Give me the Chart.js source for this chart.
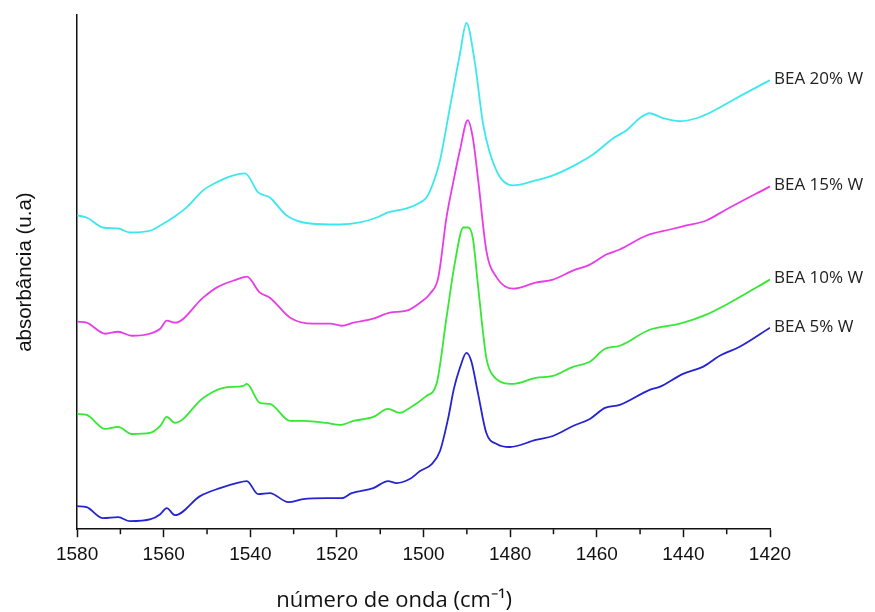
<!DOCTYPE html>
<html>
<head>
<meta charset="utf-8">
<script src="https://cdn.jsdelivr.net/npm/chart.js@4/dist/chart.umd.min.js"></script>
<style>
  html, body { margin: 0; padding: 0; background: #fff; }
  #wrap { width: 875px; height: 612px; }
</style>
</head>
<body>
<div id="wrap"><canvas id="irChart" width="875" height="612"></canvas></div>
<script>
// wavenumbers (cm-1) and absorbance (arbitrary units, stacked offsets)
var wn5 = [1580, 1577.8, 1574, 1570.5, 1567.8, 1563, 1560.8, 1559.3, 1557.4, 1551.6, 1547, 1543.2, 1540.8, 1538.2, 1535.5, 1531.2, 1527.8, 1522.4, 1518.9, 1516.6, 1511.6, 1508.2, 1506.2, 1503.2, 1500.8, 1498.1, 1496.2, 1494.3, 1493, 1491.6, 1490.1, 1489, 1487.4, 1485.5, 1483.1, 1480.1, 1474.1, 1470.1, 1465.5, 1461.6, 1458.1, 1454.7, 1447.8, 1445.5, 1440.1, 1435.5, 1431.6, 1427, 1420];
var abs5 = [23, 22, 11, 12, 8, 10, 15, 21, 14, 33, 41, 46, 48, 35, 36, 27, 30, 31, 31, 36, 41, 48, 46, 50, 58, 65, 78, 111, 140, 161, 176, 168, 135, 96, 85, 82, 89, 93, 103, 110, 121, 124, 139, 142, 155, 162, 173, 182, 201];

var wn10 = [1580, 1577.8, 1573.5, 1570.5, 1567.4, 1563.2, 1560.8, 1559.3, 1557.4, 1550.9, 1546.2, 1541.6, 1540.8, 1537.8, 1535.5, 1530.8, 1527.8, 1522.4, 1519.3, 1516.2, 1511.6, 1508.2, 1505.5, 1503.2, 1499.3, 1497, 1494.7, 1492.8, 1490.8, 1489.7, 1488.6, 1487.4, 1485.5, 1483.9, 1479.3, 1474.1, 1470.1, 1465.5, 1461.6, 1458.1, 1454.7, 1447.8, 1440.8, 1434.7, 1430.1, 1420];
var abs10 = [115, 114, 100, 102, 95, 96, 103, 112, 106, 131, 141, 143, 145, 126, 125, 108, 108, 106, 104, 108, 112, 120, 116, 121, 133, 145, 211, 265, 301, 301, 290, 242, 171, 153, 145, 151, 153, 162, 167, 180, 183, 199, 205, 214, 224, 249];

var wn15 = [1580, 1577.8, 1573.5, 1570.5, 1567.4, 1563.2, 1560.8, 1559.3, 1557.4, 1550.9, 1547.8, 1543.2, 1540.8, 1537.8, 1535.5, 1530.8, 1525.5, 1521.6, 1518.9, 1516.2, 1511.6, 1507.8, 1503.9, 1500.8, 1498.5, 1496.6, 1494.7, 1493.2, 1491.6, 1489.8, 1488.6, 1487.4, 1485.5, 1483.1, 1479.3, 1474.1, 1470.1, 1465.5, 1461.6, 1457.8, 1454.7, 1448.5, 1443.1, 1439.3, 1434.7, 1430.1, 1420];
var abs15 = [207, 206, 195, 197, 193, 195, 200, 208, 206, 231, 241, 249, 252, 236, 231, 211, 205, 205, 203, 206, 210, 216, 218, 226, 235, 251, 311, 345, 378, 408, 390, 349, 278, 251, 240, 246, 249, 258, 264, 274, 279, 293, 299, 303, 308, 319, 342];

var wn20 = [1580, 1577.8, 1574, 1570.5, 1567.8, 1563, 1560.8, 1557.8, 1554.7, 1550.9, 1547.8, 1543.9, 1541.2, 1538.2, 1535.5, 1531.6, 1526.2, 1519.3, 1514.7, 1510.8, 1508.2, 1503.9, 1500.8, 1499.3, 1497.8, 1496.2, 1493.9, 1491.6, 1490.1, 1488.2, 1486.2, 1483.1, 1479.3, 1474.1, 1470.1, 1464.7, 1460.8, 1456.2, 1453.1, 1450.1, 1447.8, 1444.7, 1440.8, 1437, 1433.2, 1427.8, 1420];
var abs20 = [313, 311, 301, 300, 296, 298, 303, 311, 321, 338, 346, 353, 355, 336, 331, 313, 305, 304, 306, 311, 316, 320, 326, 331, 345, 368, 421, 474, 505, 467, 403, 357, 343, 348, 353, 364, 374, 390, 398, 410, 415, 410, 407, 410, 417, 430, 448];

var seriesNames = ["BEA 5% W", "BEA 10% W", "BEA 15% W", "BEA 20% W"];
var seriesColors = ["#2424d2", "#34e834", "#e83ce8", "#3ce8ee"];
var xTicks = [1580, 1560, 1540, 1520, 1500, 1480, 1460, 1440, 1420];
var xTitle = "número de onda (cm⁻¹)";

function toPoints(xs, ys) {
    return xs.map(function (x, i) { return { x: x, y: ys[i] }; });
}

var allX = [wn5, wn10, wn15, wn20];
var allY = [abs5, abs10, abs15, abs20];

var datasets = seriesNames.map(function (name, i) {
    return {
        label: name,
        data: toPoints(allX[i], allY[i]),
        borderColor: seriesColors[i],
        borderWidth: 1.8,
        pointRadius: 0,
        fill: false,
        cubicInterpolationMode: "monotone",
    };
});

// minor ticks, the x title (sits a bit left of centre in the original) and the series names
var extras = {
    id: "extras",
    afterDraw: function (chart) {
        var ctx = chart.ctx;
        var xs = chart.scales.x;
        var area = chart.chartArea;
        ctx.save();
        ctx.strokeStyle = "#111";
        ctx.lineWidth = 1.5;
        for (var v = 1570; v > 1420; v -= 20) {
            var px = xs.getPixelForValue(v);
            ctx.beginPath();
            ctx.moveTo(px, area.bottom);
            ctx.lineTo(px, area.bottom + 5);
            ctx.stroke();
        }

        ctx.fillStyle = "#111";
        ctx.font = "22px 'Open Sans'";
        ctx.textAlign = "center";
        ctx.textBaseline = "middle";
        ctx.fillText(xTitle, area.left + 317, area.bottom + 72);

        ctx.fillStyle = "#222";
        ctx.font = "17px 'Open Sans'";
        ctx.textAlign = "left";
        chart.data.datasets.forEach(function (ds, i) {
            var meta = chart.getDatasetMeta(i);
            var last = meta.data[meta.data.length - 1];
            ctx.fillText(ds.label, last.x + 4, last.y - 1);
        });
        ctx.restore();
    },
};

var config = {
    type: "line",
    data: { datasets: datasets },
    options: {
        responsive: false,
        animation: false,
        layout: { padding: { left: 13, right: 105, top: 15, bottom: 40 } },
        plugins: {
            legend: { display: false },
            tooltip: { enabled: false },
        },
        scales: {
            x: {
                type: "linear",
                reverse: true,
                min: 1420,
                max: 1580,
                afterBuildTicks: function (scale) {
                    scale.ticks = xTicks.map(function (v) { return { value: v }; });
                },
                ticks: {
                    color: "#111",
                    font: { family: "'Liberation Sans', Arial", size: 19 },
                    padding: 6,
                    maxRotation: 0,
                    callback: function (value) { return String(value); },
                },
                grid: {
                    drawOnChartArea: false,
                    drawTicks: true,
                    tickLength: 8,
                    tickColor: "#111",
                    tickWidth: 1.5,
                },
                border: { display: true, color: "#111", width: 1.5 },
            },
            y: {
                min: 0,
                max: 513,
                ticks: { display: false },
                grid: { display: false, drawTicks: false },
                border: { display: true, color: "#111", width: 1.5 },
                title: {
                    display: true,
                    text: "absorbância (u.a)",
                    color: "#111",
                    font: { family: "'Liberation Sans', Arial", size: 20.5 },
                    padding: { top: 0, bottom: 39.5 },
                },
            },
        },
    },
    plugins: [extras],
};

var irChart = new Chart(document.getElementById("irChart"), config);
</script>
</body>
</html>
